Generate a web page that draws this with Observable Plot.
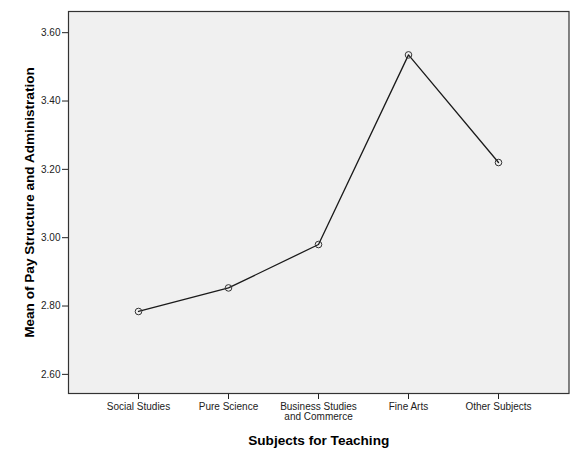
<!DOCTYPE html>
<html>
<head>
<meta charset="utf-8">
<script src="https://cdn.jsdelivr.net/npm/d3@7"></script>
<script src="https://cdn.jsdelivr.net/npm/@observablehq/plot@0.6"></script>
<style>
  html, body { margin: 0; padding: 0; background: #fff; }
  #chart svg { display: block; }
</style>
</head>
<body>
<div id="chart"></div>
<script>
const subjects = ["Social Studies", "Pure Science", "Business Studies\nand Commerce", "Fine Arts", "Other Subjects"];
const means = [2.784, 2.853, 2.980, 3.535, 3.220];
const yTicks = [2.60, 2.80, 3.00, 3.20, 3.40, 3.60];

const data = subjects.map((s, i) => ({subject: s, mean: means[i]}));

const chart = Plot.plot({
  width: 580,
  height: 464,
  marginLeft: 68,
  marginRight: 11.5,
  marginTop: 11,
  marginBottom: 71,
  style: {fontFamily: "'Liberation Sans', Arial, sans-serif", fontSize: "10px", color: "#222", background: "#fff"},
  x: {type: "point", domain: subjects, range: [68, 568.5], padding: 0.777},
  y: {domain: [2.544, 3.662]},
  marks: [
    Plot.frame({fill: "#f0f0f0", stroke: "none"}),
    Plot.axisY({
      ticks: yTicks, tickFormat: d => d.toFixed(2), tickSize: 6, tickPadding: 2,
      label: "Mean of Pay Structure and Administration", labelAnchor: "center", labelArrow: false,
      labelOffset: 44, fontSize: 10
    }),
    Plot.axisX({
      tickSize: 6, tickPadding: 3, lineHeight: 1.0, fontSize: 10,
      label: "Subjects for Teaching", labelAnchor: "center", labelArrow: false, labelOffset: 51
    }),
    Plot.line(data, {x: "subject", y: "mean", stroke: "#1a1a1a", strokeWidth: 1.3}),
    Plot.dot(data, {x: "subject", y: "mean", r: 3.3, stroke: "#333", strokeWidth: 1, fill: "none"}),
    Plot.frame({stroke: "#333", strokeWidth: 1.2})
  ]
});

// style axis titles bold
chart.querySelectorAll("g[aria-label='y-axis label'] text, g[aria-label='x-axis label'] text").forEach(t => {
  t.style.fontWeight = "bold";
  t.style.fontSize = "13.6px";
  t.style.fill = "#000";
});
document.getElementById("chart").appendChild(chart);
</script>
</body>
</html>
